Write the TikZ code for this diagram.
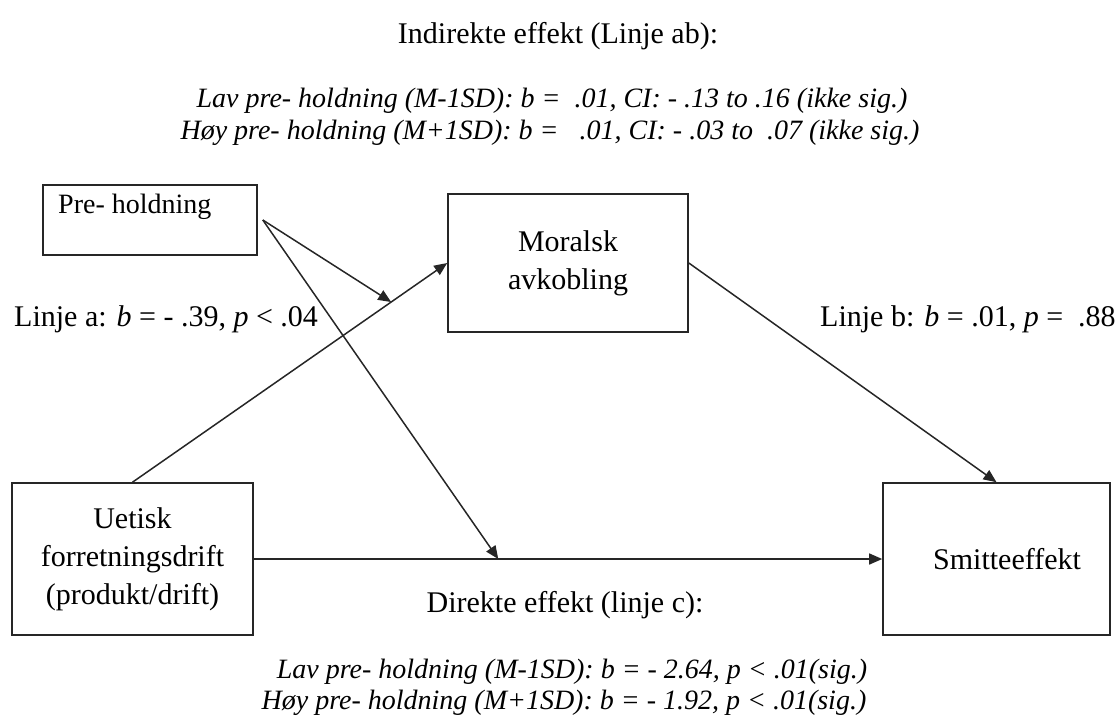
\documentclass[tikz,border=0pt]{standalone}
\usepackage{fontspec}
\setmainfont{Liberation Serif}
\usetikzlibrary{arrows.meta,calc}
\begin{document}
\begin{tikzpicture}[x=1pt,y=-1pt,
  box/.style={draw=black!85, line width=1.6pt, rectangle, inner sep=0pt,
    font=\fontsize{30}{38}\selectfont, align=center},
  conn/.style={draw=black!85, line width=1.5pt, -{Triangle[length=13pt,width=11pt]}},
  lbl/.style={anchor=base, font=\fontsize{30}{36}\selectfont, inner sep=0pt},
  ilbl/.style={anchor=base, font=\fontsize{28}{34}\selectfont\itshape, inner sep=0pt}]
\useasboundingbox (0,0) rectangle (1115,717);

% boxes
\node[box, minimum width=214pt, minimum height=70pt] (pre) at (150,220) {};
\node[anchor=base west, inner sep=0pt, font=\fontsize{28}{34}\selectfont] (pretext) at (58,213) {Pre- holdning};
\node[box, minimum width=240pt, minimum height=138pt] (mor) at (568,263) {Moralsk\\avkobling};
\node[box, minimum width=241pt, minimum height=152pt] (uet) at (132.5,559) {Uetisk\\forretningsdrift\\(produkt/drift)};
\node[box, minimum width=227pt, minimum height=152pt] (smi) at (996.5,559) {\hspace*{21pt}Smitteeffekt};

% connectors
\coordinate (pstart) at ([xshift=5pt]pre.east);
\coordinate (ja) at ($(uet.north)!0.822!(mor.west)$);
\coordinate (jc) at ($(uet.east)!0.389!(smi.west)$);
\draw[conn] (uet.north) -- (mor.west);
\draw[conn] (mor.east) -- (smi.north);
\draw[conn] (uet.east) -- (smi.west);
\draw[conn] (pstart) -- (ja);
\draw[conn] (pstart) -- (jc);

% path labels
\node[lbl, anchor=base west] (la) at (14,326) {Linje a: \textit{b} = - .39, \textit{p} < .04};
\node[lbl, anchor=base west] (lb) at (820,326) {Linje b: \textit{b} = .01, \textit{p} = \ .88};

% indirect effect
\node[lbl] (ind) at (558,44) {Indirekte effekt (Linje ab):};
\node[ilbl] (ind1) at (552,107) {Lav pre- holdning (M-1SD): b = \ .01, CI: - .13 to .16 (ikke sig.)};
\node[ilbl] (ind2) at (550,139) {Høy pre- holdning (M+1SD): b = \ \ .01, CI: - .03 to \ .07 (ikke sig.)};

% direct effect
\node[lbl] (dir) at (565,612) {Direkte effekt (linje c):};
\node[ilbl] (dir1) at (572,678) {Lav pre- holdning (M-1SD): b = - 2.64, p < .01(sig.)};
\node[ilbl] (dir2) at (564,709) {Høy pre- holdning (M+1SD): b = - 1.92, p < .01(sig.)};
\end{tikzpicture}
\end{document}
